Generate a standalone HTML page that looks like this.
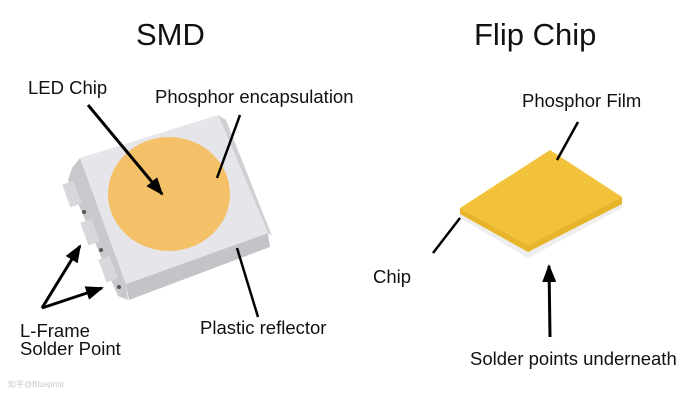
<!DOCTYPE html>
<html><head><meta charset="utf-8"><style>
html,body{margin:0;padding:0;background:#fff}
svg{display:block}
text{font-family:"Liberation Sans",sans-serif;fill:#111}
</style></head><body>
<svg width="700" height="400" viewBox="0 0 700 400" xmlns="http://www.w3.org/2000/svg">
<defs>
<marker id="ah2" markerWidth="18" markerHeight="14" refX="16" refY="7" orient="auto" markerUnits="userSpaceOnUse" viewBox="0 0 18 14">
<path d="M0,0 L18,7 L0,14 z" fill="#000"/></marker>
</defs>
<text x="136" y="45" font-size="31">SMD</text>
<text x="474" y="45" font-size="31">Flip Chip</text>

<!-- SMD package -->
<polygon points="72,168 80,158 126,284 128,300 118,296 68,180" fill="#c9c9cd"/>
<rect x="66" y="182" width="12" height="24" fill="#d8d8dc" transform="rotate(-20 72 194)"/>
<rect x="84" y="220" width="12" height="24" fill="#d8d8dc" transform="rotate(-20 90 232)"/>
<rect x="102" y="257" width="12" height="24" fill="#d8d8dc" transform="rotate(-20 108 269)"/>
<circle cx="84" cy="212" r="2" fill="#555"/>
<circle cx="101" cy="250" r="2" fill="#555"/>
<circle cx="119" cy="287" r="2" fill="#555"/>
<polygon points="126,284 268,233 270,247 129,300" fill="#c4c4c8"/>
<polygon points="218,115 226,120 272,236 268,233" fill="#d0d0d4"/>
<polygon points="80,158 218,115 268,233 126,284" fill="#e6e6ea"/>
<ellipse cx="169" cy="194" rx="61" ry="57" fill="#f4c168"/>

<line x1="88" y1="105" x2="162" y2="194" stroke="#000" stroke-width="3" marker-end="url(#ah2)"/>
<line x1="240" y1="115" x2="217" y2="178" stroke="#000" stroke-width="2.5"/>
<line x1="237" y1="248" x2="258" y2="317" stroke="#000" stroke-width="2.5"/>
<line x1="42" y1="308" x2="80" y2="246" stroke="#000" stroke-width="3" marker-end="url(#ah2)"/>
<line x1="42" y1="308" x2="102" y2="288" stroke="#000" stroke-width="3" marker-end="url(#ah2)"/>

<text x="28" y="94" font-size="18.5">LED Chip</text>
<text x="155" y="103" font-size="18.5">Phosphor encapsulation</text>
<text x="200" y="334" font-size="18.5">Plastic reflector</text>
<text x="20" y="337" font-size="18.5">L-Frame</text>
<text x="20" y="355" font-size="18.5">Solder Point</text>
<text x="8" y="387" font-size="8" style="fill:#c8c8c8">知乎@Blueprint</text>

<!-- Flip chip -->
<polygon points="460,208 528,245 622,197 622,208 528,258 460,218" fill="#eeeeee"/>
<polygon points="460,208 528,245 622,197 622,204 528,252 460,214" fill="#e8b52a"/>
<polygon points="460,208 550,150 622,197 528,245" fill="#f2c33a"/>
<line x1="578" y1="122" x2="557" y2="160" stroke="#000" stroke-width="2.5"/>
<line x1="460" y1="218" x2="433" y2="253" stroke="#000" stroke-width="2.5"/>
<line x1="550" y1="337" x2="549" y2="266" stroke="#000" stroke-width="3" marker-end="url(#ah2)"/>
<text x="522" y="107" font-size="18.5">Phosphor Film</text>
<text x="373" y="283" font-size="18.5">Chip</text>
<text x="470" y="365" font-size="18.5">Solder points underneath</text>
</svg>
</body></html>
